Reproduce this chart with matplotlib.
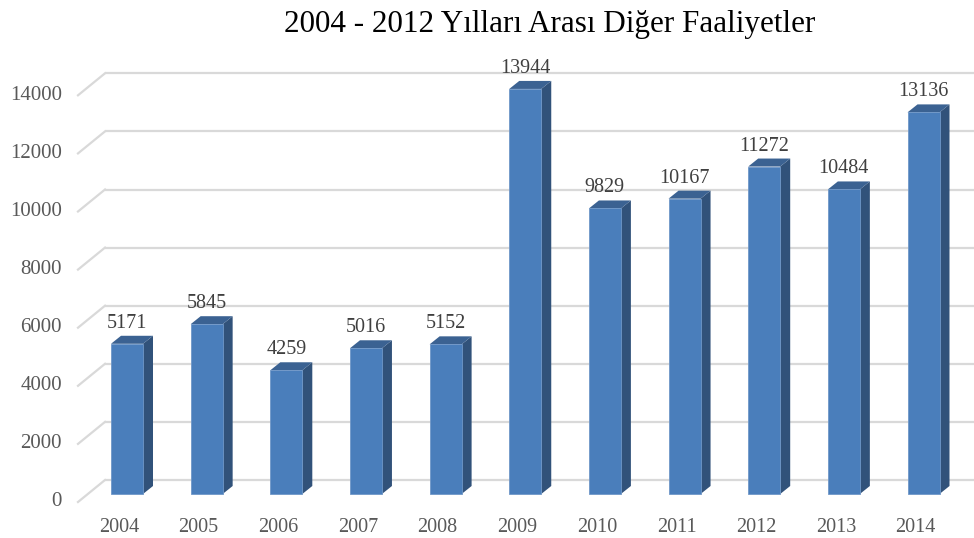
"""
Pseudo-3D column chart: 2004 - 2012 Yillari Arasi Diger Faaliyetler
"""

# imports
import numpy as np
import matplotlib.pyplot as plt
from matplotlib.patches import Polygon

# data
years = ['2004', '2005', '2006', '2007', '2008', '2009',
         '2010', '2011', '2012', '2013', '2014']
values = [5171, 5845, 4259, 5016, 5152, 13944, 9829, 10167, 11272, 10484, 13136]
y_ticks = [0, 2000, 4000, 6000, 8000, 10000, 12000, 14000]
title = '2004 - 2012 Yılları Arası Diğer Faaliyetler'

# colours
front_col = '#4A7EBB'
side_col = '#31527A'
top_col = '#3B6292'
grid_col = '#D9D9D9'
text_col = '#595959'

# geometry (pixel -> data scale)
W, H = 974, 538
px_x = 79.65          # pixels per category
px_y = 0.02905        # pixels per value unit
x0_px, y0_px = 127, 494


def px2x(p):
    return (p - x0_px) / px_x


def dpx2y(p):
    return p / px_y


plt.rcParams['font.family'] = ['Liberation Serif', 'DejaVu Serif']

fig = plt.figure(figsize=(W / 100, H / 100), dpi=100)
ax = fig.add_axes([0, 0, 1, 1])
ax.set_xlim(px2x(0), px2x(W))
ax.set_ylim(dpx2y(y0_px - H), dpx2y(y0_px))
ax.axis('off')

# back wall gridlines with diagonal floor/side wall edge
back_off = dpx2y(14)
front_off = dpx2y(8)
for v in y_ticks:
    ax.plot([px2x(105), px2x(W)], [v + back_off, v + back_off],
            color=grid_col, lw=1.6, zorder=1, solid_capstyle='butt')
    ax.plot([px2x(78), px2x(105)], [v - front_off, v + back_off],
            color=grid_col, lw=1.6, zorder=1)
    ax.text(px2x(62), v - front_off, f'{v}', ha='right', va='center',
            fontsize=15, color=text_col)

# bars
width = 32 / px_x
dx = 10 / px_x
dy = dpx2y(8)
x = np.arange(len(years))
ax.bar(x, values, width=width, color=front_col, edgecolor='#6F97C8',
       linewidth=0.6, zorder=3)
for xi, v in zip(x, values):
    xl, xr = xi - width / 2, xi + width / 2
    ax.add_patch(Polygon([(xr, 0), (xr + dx, dy), (xr + dx, v + dy), (xr, v)],
                         closed=True, color=side_col, zorder=2.5, lw=0))
    ax.add_patch(Polygon([(xl, v), (xr, v), (xr + dx, v + dy), (xl + dx, v + dy)],
                         closed=True, color=top_col, zorder=2.5, lw=0))
    ax.text(xi, v + dpx2y(16), f'{v}', ha='center', va='baseline',
            fontsize=14.5, color='#404040')

# category labels (shifted left by the 3D projection)
for xi, lab in zip(x, years):
    ax.text(xi - 8 / px_x, dpx2y(y0_px - 532), lab, ha='center', va='baseline',
            fontsize=14.5, color=text_col)

# title
ax.text(px2x(550), dpx2y(y0_px - 32), title, ha='center', va='baseline',
        fontsize=22.4, color='black')

fig.savefig('out.png', dpi=100)
